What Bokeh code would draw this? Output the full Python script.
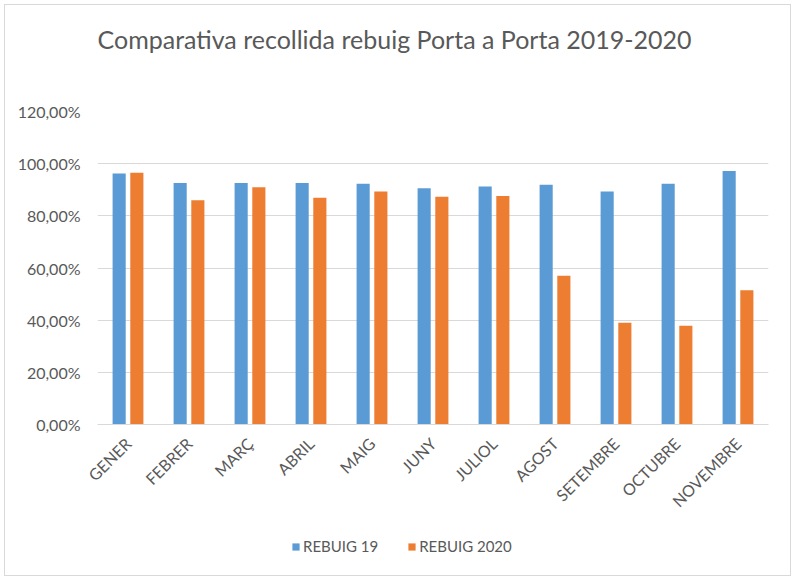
from bokeh.plotting import figure
from bokeh.layouts import column
from bokeh.models import ColumnDataSource, FactorRange, FixedTicker, CustomJSTickFormatter, Legend, LegendItem, Title
from bokeh.transform import dodge
from bokeh.embed import file_html
from bokeh.resources import INLINE
import math

months = ["GENER", "FEBRER", "MARÇ", "ABRIL", "MAIG", "JUNY", "JULIOL", "AGOST", "SETEMBRE", "OCTUBRE", "NOVEMBRE"]
rebuig_19 = [96.2, 92.6, 92.6, 92.6, 92.3, 90.6, 91.2, 91.9, 89.3, 92.3, 97.2]
rebuig_2020 = [96.5, 86.0, 91.0, 86.9, 89.3, 87.3, 87.6, 57.0, 39.0, 37.9, 51.5]
y_ticks = [0, 20, 40, 60, 80, 100, 120]
series_names = ["REBUIG 19", "REBUIG 2020"]
title_text = "Comparativa recollida rebuig Porta a Porta 2019-2020"

BLUE = "#5B9BD5"
ORANGE = "#ED7D31"
GREY_TEXT = "#595959"
FONT = "Lato"

src = ColumnDataSource(dict(m=months, a=rebuig_19, b=rebuig_2020))

p = figure(width=785, height=515, x_range=FactorRange(*months, range_padding=0),
           y_range=(0, 120), output_backend="svg", toolbar_location=None,
           min_border_left=92, min_border_right=22, min_border_top=106, min_border_bottom=91)
# spacer title (closest to the frame) then the real title
p.add_layout(Title(text=" ", text_font_size="1px", standoff=50), "above")
p.add_layout(Title(text=title_text, align="left", text_font=FONT, text_font_size="25px",
                   text_font_style="normal", text_color=GREY_TEXT, standoff=10), "above")
p.outline_line_color = None
p.background_fill_color = "white"
p.border_fill_color = "white"

p.vbar(x=dodge("m", -0.145, range=p.x_range), top="a", width=0.215, source=src,
       fill_color=BLUE, line_color=None)
p.vbar(x=dodge("m", 0.145, range=p.x_range), top="b", width=0.215, source=src,
       fill_color=ORANGE, line_color=None)

p.xgrid.grid_line_color = None
p.ygrid.grid_line_color = "#d9d9d9"
p.ygrid.grid_line_width = 1

p.yaxis.ticker = FixedTicker(ticks=y_ticks)
p.yaxis.formatter = CustomJSTickFormatter(code="return tick.toFixed(2).replace('.', ',') + '%';")
p.yaxis.axis_line_color = None
p.yaxis.major_tick_line_color = None
p.yaxis.minor_tick_line_color = None
p.yaxis.major_label_standoff = 11
p.yaxis.major_label_text_font = FONT
p.yaxis.major_label_text_font_size = "16px"
p.yaxis.major_label_text_color = GREY_TEXT

p.xaxis.axis_line_color = "#d9d9d9"
p.xaxis.major_tick_line_color = None
p.xaxis.minor_tick_line_color = None
p.xaxis.major_label_orientation = math.pi / 4
p.xaxis.major_label_standoff = 10
p.xaxis.major_label_text_font = FONT
p.xaxis.major_label_text_font_size = "16px"
p.xaxis.major_label_text_color = GREY_TEXT

# legend strip below the chart
lf = figure(width=785, height=55, x_range=(0, 1), y_range=(0, 1), output_backend="svg",
            toolbar_location=None, min_border=0)
lf.axis.visible = False
lf.grid.visible = False
lf.outline_line_color = None
lf.border_fill_color = "white"
lf.background_fill_color = "white"
off = ColumnDataSource(dict(x=[-5], top=[-5]))
l1 = lf.vbar(x="x", top="top", width=0.1, source=off, fill_color=BLUE, line_color=None)
l2 = lf.vbar(x="x", top="top", width=0.1, source=off, fill_color=ORANGE, line_color=None)
legend = Legend(items=[LegendItem(label=series_names[0], renderers=[l1]),
                       LegendItem(label=series_names[1], renderers=[l2])],
                orientation="horizontal", location=(194, 20),
                glyph_width=9, glyph_height=9, label_standoff=3, spacing=29,
                padding=0, margin=0, border_line_color=None, background_fill_alpha=0,
                label_text_font=FONT, label_text_font_size="15px", label_text_color=GREY_TEXT)
lf.add_layout(legend, "center")

layout = column(p, lf, spacing=0,
                styles={"border": "1px solid #d9d9d9", "margin-left": "4px", "margin-top": "4px"})
open("out.html", "w").write(file_html(layout, INLINE))
